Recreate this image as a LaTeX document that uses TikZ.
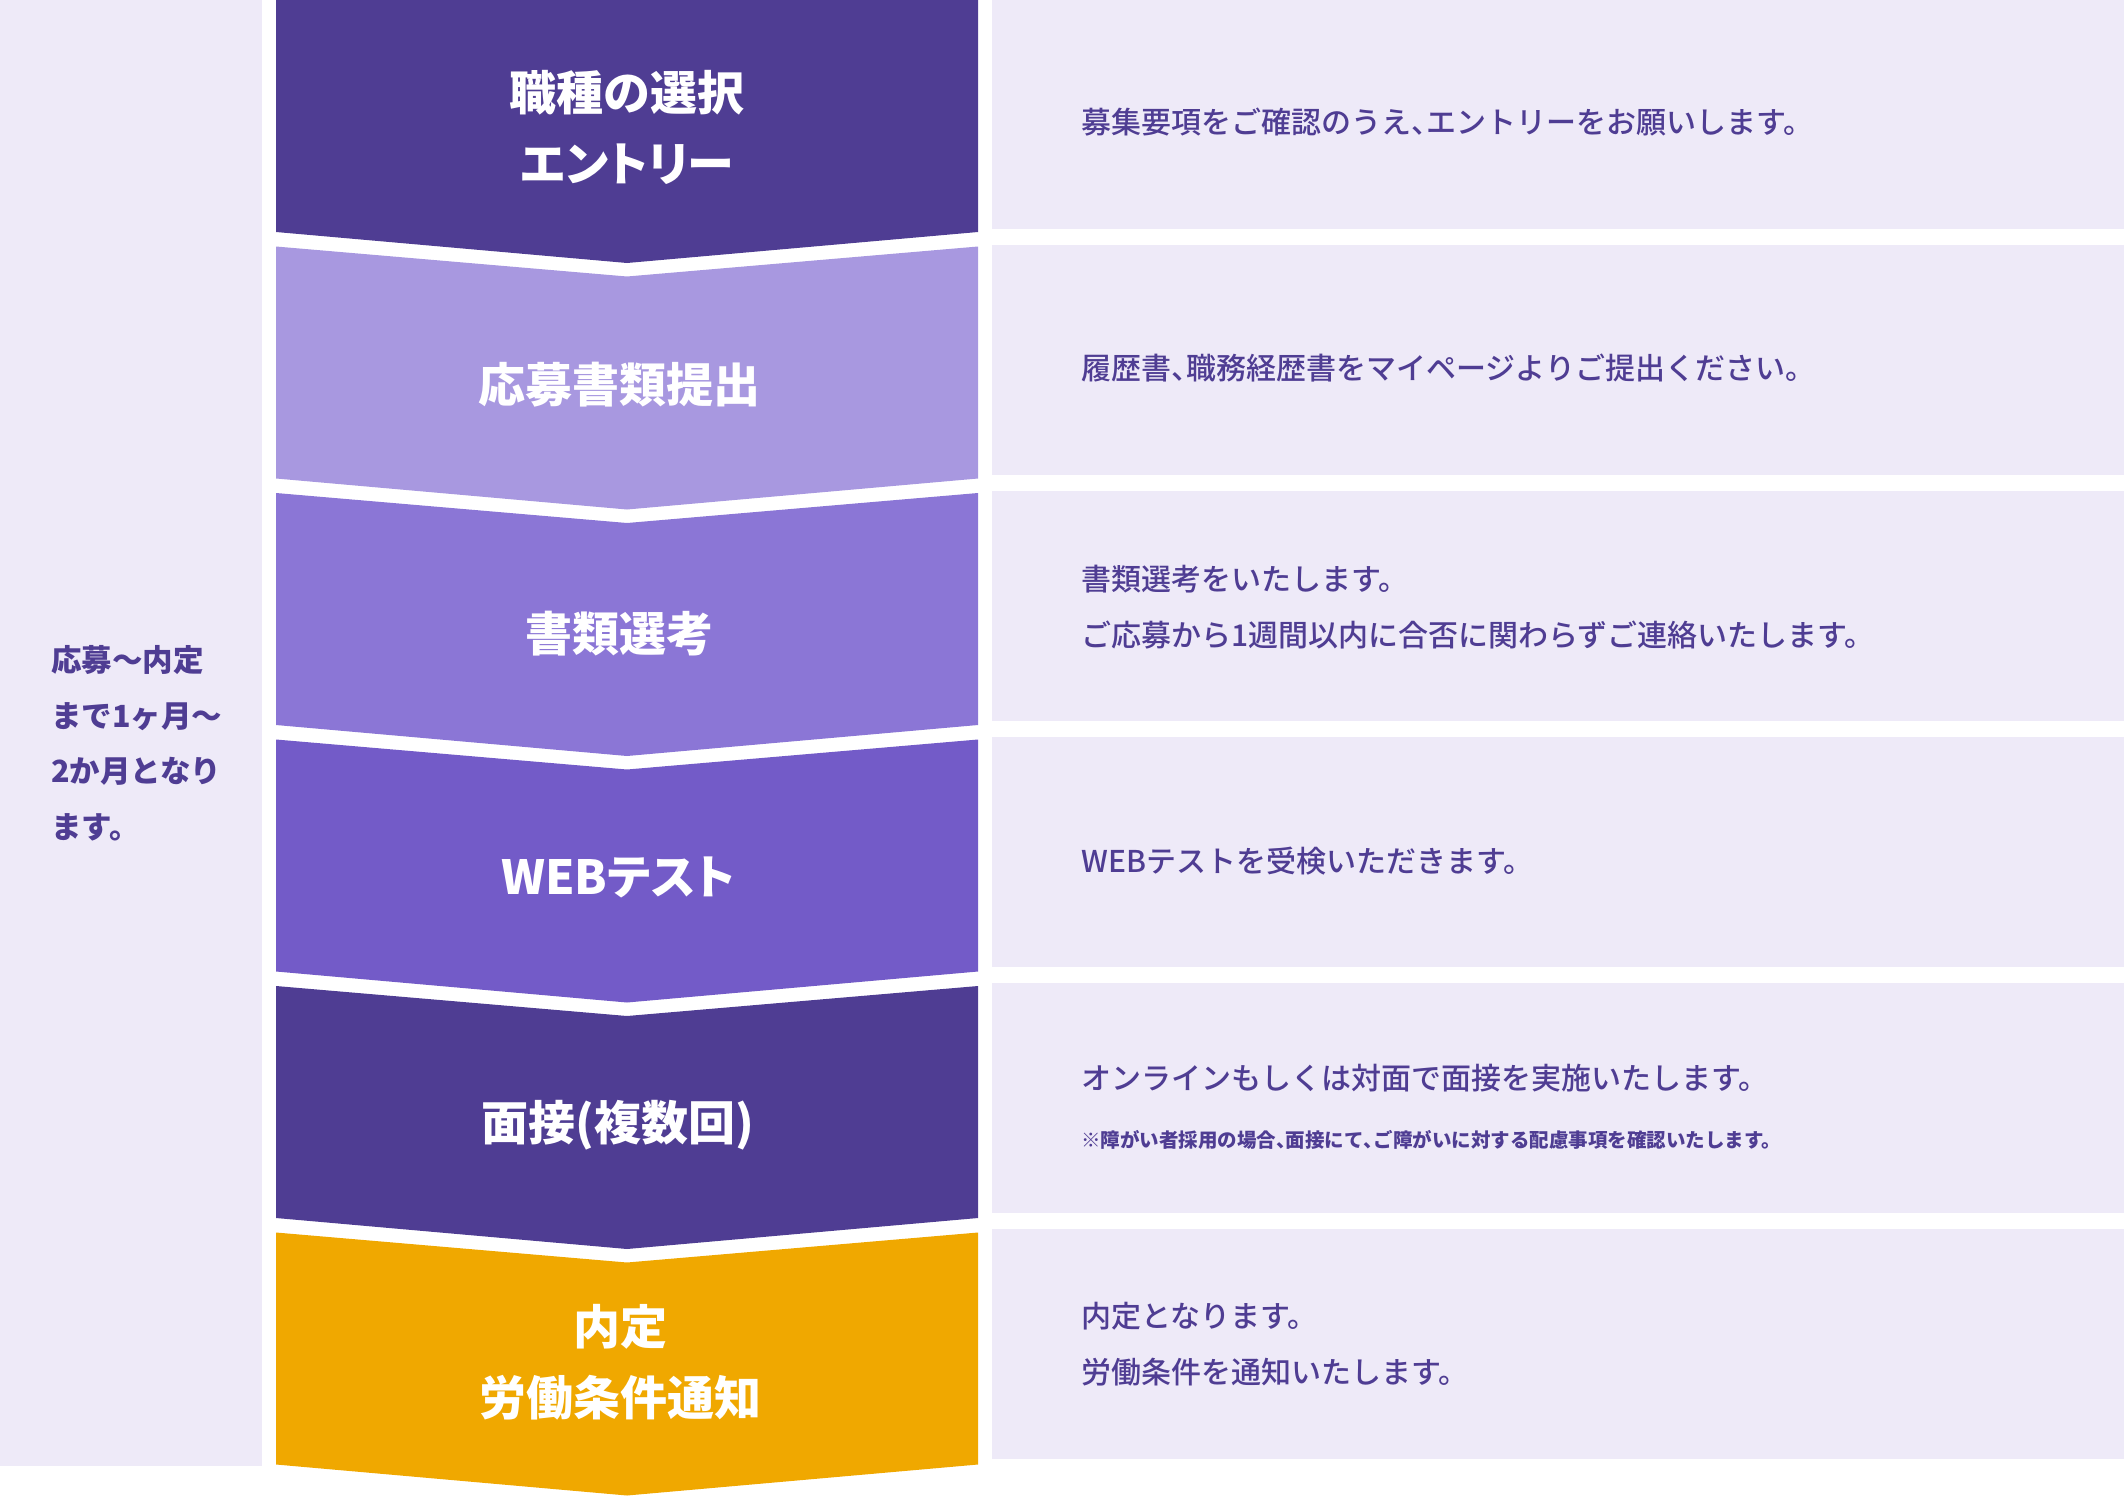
\documentclass[tikz,border=0pt]{standalone}
\usepackage{fontspec}
\setmainfont{Noto Sans CJK JP}
\newfontfamily\titlefont{Noto Sans CJK JP}[RawFeature=+palt]
\newfontfamily\infofont{Noto Sans CJK JP Medium}
\newcommand\halfcomma{{\addfontfeature{RawFeature=+halt}、}}
\definecolor{stepdark}{HTML}{4F3D93}
\definecolor{steplight}{HTML}{A898E0}
\definecolor{stepmid}{HTML}{8B76D6}
\definecolor{stepdeep}{HTML}{735BC8}
\definecolor{steporange}{HTML}{F0A800}
\definecolor{panelbg}{HTML}{EEEAF8}
\begin{document}
\begin{tikzpicture}[x=1pt,y=-1pt,
	title/.style={text=white,font=\titlefont\fontsize{47}{71}\selectfont\bfseries,align=center,inner sep=0pt},
	info/.style={text=stepdark,font=\infofont\fontsize{30}{56}\selectfont,align=left,anchor=west,inner sep=0pt}]
		\useasboundingbox (0,0) rectangle (2124,1496);
		% background panels
		\fill[panelbg] (0,0) rectangle (262,1466);
		\foreach \k in {0,...,5}
		\fill[panelbg] (992,\k*246-1) rectangle (2124,\k*246+229);
		% chevrons
		\fill[stepdark] (276,0) -- (978,0) -- (978,232) -- (627,263) -- (276,232) -- cycle;
		\foreach \k/\c in {1/steplight,2/stepmid,3/stepdeep,4/stepdark,5/steporange}
		\fill[\c] (276,\k*246.5) -- (627,\k*246.5+30) -- (978,\k*246.5) -- (978,\k*246.5+232) -- (627,\k*246.5+263) -- (276,\k*246.5+232) -- cycle;
		% step titles
		\node[title] (entry) at (627,127.5) {職種の選択\\エントリー};
		\node[title] (docs) at (619,385) {応募書類提出};
		\node[title] (screen) at (619,634) {書類選考};
		\node[title] (webtest) at (618,877) {WEBテスト};
		\node[title] (interview) at (618,1125) {面接(複数回)};
		\node[title] (offer) at (620,1362) {内定\\労働条件通知};
		% descriptions
		\node[info] (entrytext) at (1081,122) {募集要項をご確認のうえ\halfcomma エントリーをお願いします。};
		\node[info] (docstext) at (1081,368) {履歴書\halfcomma 職務経歴書をマイページよりご提出ください。};
		\node[info] (screentext) at (1081,607.5) {書類選考をいたします。\\ご応募から1週間以内に合否に関わらずご連絡いたします。};
		\node[info] (webtesttext) at (1081,861) {WEBテストを受検いただきます。};
		\node[info] (interviewtext) at (1081,1078) {オンラインもしくは対面で面接を実施いたします。};
		\node[info,font=\fontsize{19.5}{24}\selectfont\bfseries] (interviewnote) at (1081,1140) {※障がい者採用の場合\halfcomma 面接にて\halfcomma ご障がいに対する配慮事項を確認いたします。};
		\node[info] (offertext) at (1081,1344) {内定となります。\\労働条件を通知いたします。};
		% period
		\node[info,font=\fontsize{30.5}{55.5}\selectfont\bfseries] (period) at (51,743.5) {応募〜内定\\まで1ヶ月〜\\2か月となり\\ます。};
	\end{tikzpicture}
\end{document}
